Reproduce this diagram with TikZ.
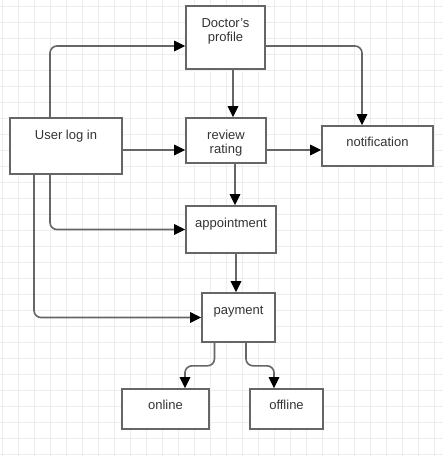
\documentclass[tikz,border=0pt]{standalone}
\usepackage{fontspec}
\setmainfont{Liberation Sans}
\usetikzlibrary{arrows.meta}
\definecolor{gridgray}{HTML}{EDEDED}
\definecolor{linegray}{HTML}{666666}
\definecolor{textgray}{HTML}{333333}
\tikzset{
  box/.style={draw=linegray, line width=1.6pt, fill=white, inner sep=0pt},
  boxtext/.style={anchor=base, inner sep=0pt, align=center, text=textgray,
    font=\fontsize{13}{14}\selectfont},
  conn/.style={draw=linegray, line width=1.6pt, rounded corners=7pt,
    -{Triangle[length=11pt,width=10.5pt,color=black]}}
}
\begin{document}
\begin{tikzpicture}[x=1pt, y=-1pt]
\fill[white] (0,0) rectangle (443,456);
\useasboundingbox (0,0) rectangle (443,456);
\foreach \gx in {0,...,27} \draw[gridgray, line width=1pt] (2.3+16*\gx,0) -- (2.3+16*\gx,456);
\foreach \gy in {0,...,28} \draw[gridgray, line width=1pt] (0,6.7+16*\gy) -- (443,6.7+16*\gy);

\node[box, minimum width=79pt, minimum height=63pt] (doc) at (225.5,37.5) {};
\node[box, minimum width=112pt, minimum height=56pt] (user) at (66,146) {};
\node[box, minimum width=80pt, minimum height=45pt] (review) at (226,140.5) {};
\node[box, minimum width=111pt, minimum height=40pt] (notif) at (377.5,146) {};
\node[box, minimum width=90pt, minimum height=47pt] (appt) at (231,229.5) {};
\node[box, minimum width=73pt, minimum height=49pt] (pay) at (238.5,317.5) {};
\node[box, minimum width=87pt, minimum height=40pt] (online) at (165.5,409) {};
\node[box, minimum width=73pt, minimum height=40pt] (offline) at (286.5,409) {};

\node[boxtext] (doc-t) at ([yshift=-36pt]doc.north) {Doctor's\\profile};
\node[boxtext] (user-t) at ([yshift=-22pt]user.north) {User log in};
\node[boxtext] (review-t) at ([yshift=-36pt]review.north) {review\\rating};
\node[boxtext] (notif-t) at ([yshift=-21.5pt]notif.north) {notification};
\node[boxtext] (appt-t) at ([yshift=-22pt]appt.north) {appointment};
\node[boxtext] (pay-t) at ([yshift=-22pt]pay.north) {payment};
\node[boxtext] (online-t) at ([yshift=-21.5pt]online.north) {online};
\node[boxtext] (offline-t) at ([yshift=-21.5pt]offline.north) {offline};

\draw[conn] ([xshift=-16pt]user.north) |- ([yshift=-8.5pt]doc.west);
\draw[conn] ([yshift=-4pt]user.east) -- ([yshift=-9.5pt]review.west);
\draw[conn] ([xshift=-16pt]user.south) |- (appt.west);
\draw[conn] ([xshift=-32pt]user.south) |- (pay.west);
\draw[conn] ([xshift=7.5pt]doc.south) -- ([xshift=7pt]review.north);
\draw[conn] ([yshift=-8.5pt]doc.east) -| ([xshift=-15.5pt]notif.north);
\draw[conn] ([yshift=-9.5pt]review.east) -- ([yshift=-4pt]notif.west);
\draw[conn] ([xshift=9pt]review.south) -- ([xshift=4pt]appt.north);
\draw[conn] ([xshift=5pt]appt.south) -- ([xshift=-2.5pt]pay.north);
\draw[conn] ([xshift=-24pt]pay.south) -- ++(0,23) -| ([xshift=19.5pt]online.north);
\draw[conn] ([xshift=7.5pt]pay.south) -- ++(0,23) -| ([xshift=-12.5pt]offline.north);
\end{tikzpicture}
\end{document}
